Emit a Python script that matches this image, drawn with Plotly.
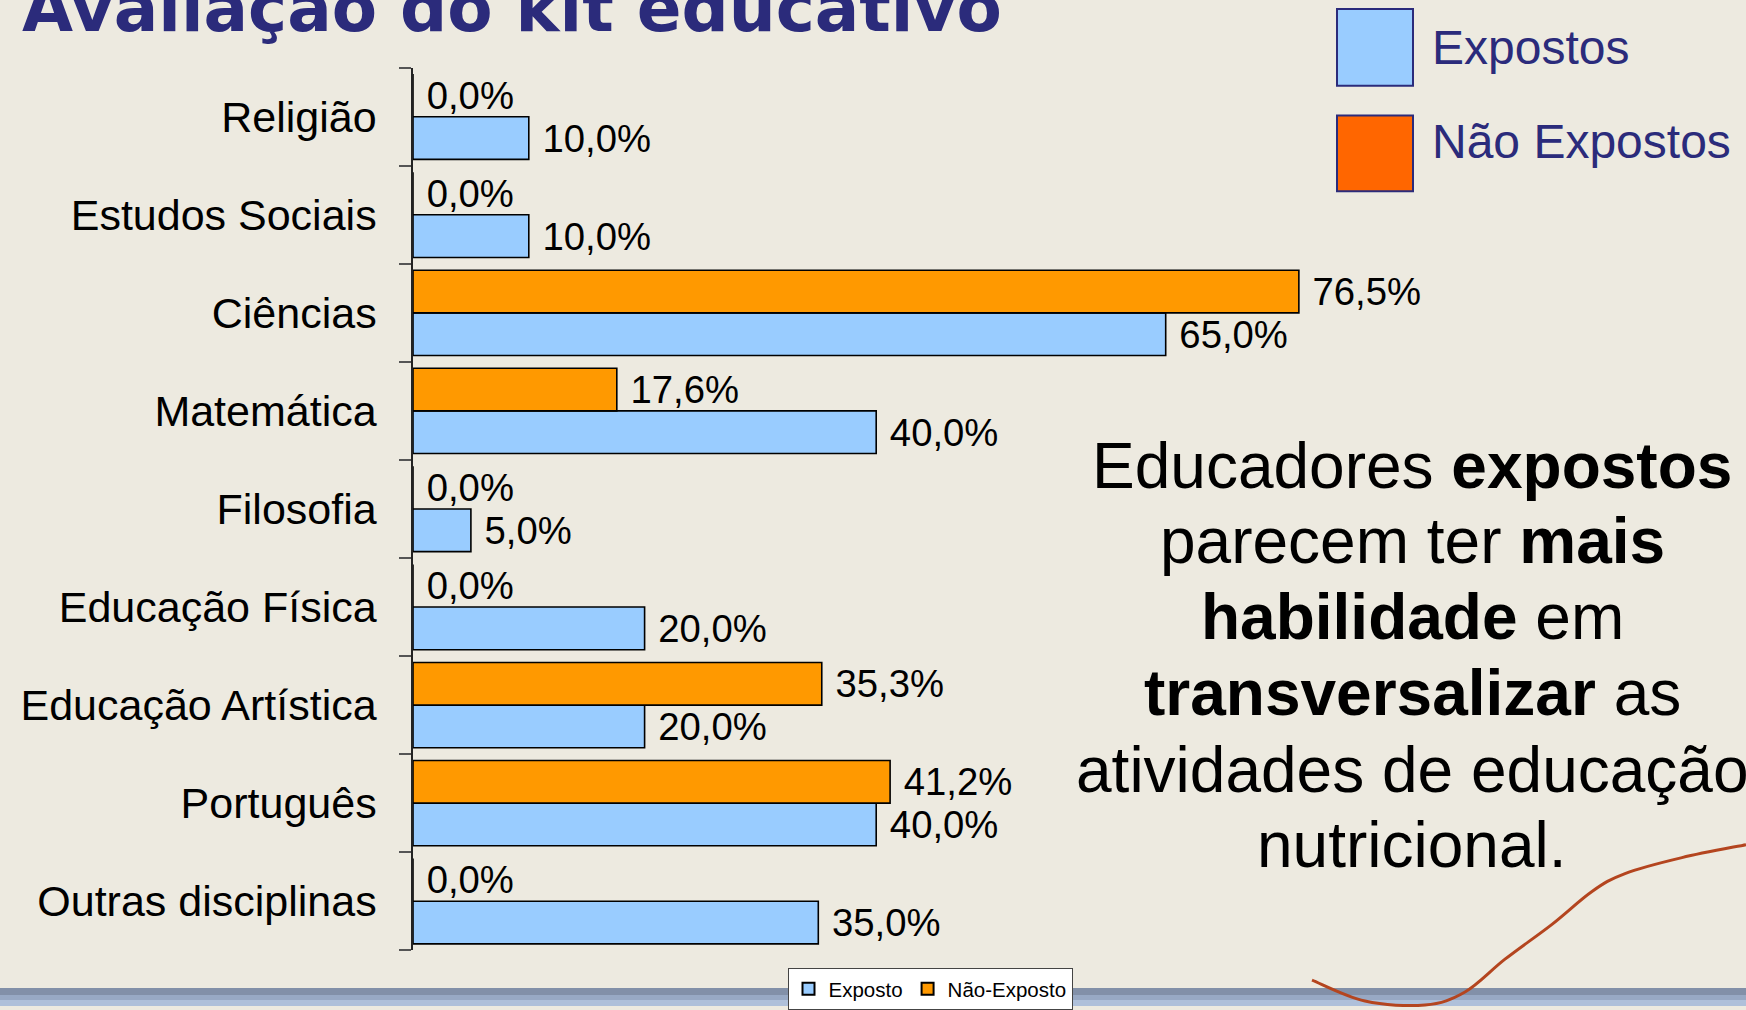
import plotly.graph_objects as go

W, H = 1746, 1010

categories = ["Religião", "Estudos Sociais", "Ciências", "Matemática", "Filosofia",
              "Educação Física", "Educação Artística", "Português", "Outras disciplinas"]
exposto = [10.0, 10.0, 65.0, 40.0, 5.0, 20.0, 20.0, 40.0, 35.0]
nao_exposto = [0.0, 0.0, 76.5, 17.6, 0.0, 0.0, 35.3, 41.2, 0.0]

title_text = "Avaliação do kit educativo"
note_lines = ["Educadores <b>expostos</b>", "parecem ter <b>mais</b>", "<b>habilidade</b> em",
              "<b>transversalizar</b> as", "atividades de educação", "nutricional."]

BLUE = "#99CCFF"
ORANGE = "#FF9900"
NAVY = "#2B2B7B"
FONT = "Liberation Sans, Arial, sans-serif"


def px(x):
    return x / W


def py(y):
    return 1 - y / H


def fmt(v):
    return " " + f"{v:.1f}".replace(".", ",") + "%"


# plot bottom-to-top so that Religião is at the top
cats_r = categories[::-1]
exp_r = exposto[::-1]
nao_r = nao_exposto[::-1]

fig = go.Figure()
fig.add_trace(go.Bar(
    y=cats_r, x=exp_r, orientation="h", name="Exposto",
    marker=dict(color=BLUE, line=dict(color="black", width=1.6)),
    text=[fmt(v) for v in exp_r], textposition="outside",
    textfont=dict(size=39.5, color="black", family=FONT), cliponaxis=False,
))
fig.add_trace(go.Bar(
    y=cats_r, x=nao_r, orientation="h", name="Não-Exposto",
    marker=dict(color=ORANGE, line=dict(color="black", width=1.6)),
    text=[fmt(v) for v in nao_r], textposition="outside",
    textfont=dict(size=39.5, color="black", family=FONT), cliponaxis=False,
))

x_left, px_per_unit, x_max = 413, 11.58, 100
fig.update_layout(
    width=W, height=H,
    margin=dict(l=0, r=0, t=0, b=0),
    paper_bgcolor="#EDEAE0",
    plot_bgcolor="rgba(0,0,0,0)",
    barmode="group", bargap=0.13, bargroupgap=0,
    font=dict(family=FONT, color="black"),
    xaxis=dict(domain=[px(x_left), px(x_left + px_per_unit * x_max)], range=[0, x_max],
               visible=False, showgrid=False, zeroline=False),
    yaxis=dict(domain=[py(954), py(68)], type="category", categoryorder="array",
               categoryarray=cats_r, showline=True, linecolor="#222", linewidth=1.5,
               ticks="outside", ticklen=12, tickcolor="#555", tickwidth=1.5,
               tickson="boundaries", ticklabelstandoff=26,
               tickfont=dict(size=43, color="black", family=FONT), showgrid=False,
               zeroline=False),
    legend=dict(orientation="h", x=px(930), xanchor="center", y=py(972), yanchor="top",
                bgcolor="white", bordercolor="#444", borderwidth=1,
                font=dict(size=20.5, color="black", family=FONT), traceorder="normal",
                itemsizing="constant", itemwidth=30),
    showlegend=True,
)

shapes = []
# bottom torn-paper band
shapes.append(dict(type="rect", xref="paper", yref="paper", x0=0, x1=1, y0=py(1010), y1=py(992),
                   fillcolor="#8290A8", line=dict(width=0), layer="below"))
shapes.append(dict(type="rect", xref="paper", yref="paper", x0=0, x1=1, y0=py(1010), y1=py(999),
                   fillcolor="#98A9C4", line=dict(width=0), layer="below"))
shapes.append(dict(type="rect", xref="paper", yref="paper", x0=0, x1=1, y0=py(1010), y1=py(1004),
                   fillcolor="#AFC0DA", line=dict(width=0), layer="below"))

# red thread decoration (smooth Catmull-Rom curve)
thread = [(1312, 984), (1365, 1005), (1425, 1009), (1465, 996), (1505, 963), (1552, 928),
          (1592, 895), (1625, 877), (1682, 861), (1746, 848)]
pts = [thread[0]] + thread + [thread[-1]]
segs = [f"M {px(thread[0][0]):.5f},{py(thread[0][1]):.5f}"]
for i in range(1, len(pts) - 2):
    p0, p1, p2, p3 = pts[i - 1], pts[i], pts[i + 1], pts[i + 2]
    c1 = (p1[0] + (p2[0] - p0[0]) / 6, p1[1] + (p2[1] - p0[1]) / 6)
    c2 = (p2[0] - (p3[0] - p1[0]) / 6, p2[1] - (p3[1] - p1[1]) / 6)
    segs.append(f"C {px(c1[0]):.5f},{py(c1[1]):.5f} {px(c2[0]):.5f},{py(c2[1]):.5f} "
                f"{px(p2[0]):.5f},{py(p2[1]):.5f}")
shapes.append(dict(type="path", xref="paper", yref="paper", path=" ".join(segs),
                   line=dict(color="#B4451F", width=3), layer="below"))
# top-right legend boxes
shapes.append(dict(type="rect", xref="paper", yref="paper", x0=px(1337), x1=px(1413),
                   y0=py(86), y1=py(9), fillcolor="#99CCFF", line=dict(color=NAVY, width=2)))
shapes.append(dict(type="rect", xref="paper", yref="paper", x0=px(1337), x1=px(1413),
                   y0=py(192), y1=py(116), fillcolor="#FF6600", line=dict(color=NAVY, width=2)))
fig.update_layout(shapes=shapes)

ann = []
ann.append(dict(text="<b>" + title_text + "</b>", xref="paper", yref="paper",
                x=px(20), y=py(32 - 0.35 * 66), xanchor="left", yanchor="middle",
                showarrow=False, font=dict(size=66, color=NAVY, family="DejaVu Sans, Verdana, sans-serif")))
ann.append(dict(text="Expostos", xref="paper", yref="paper", x=px(1430), y=py(48),
                xanchor="left", yanchor="middle", showarrow=False,
                font=dict(size=48, color=NAVY, family=FONT)))
ann.append(dict(text="Não Expostos", xref="paper", yref="paper", x=px(1430), y=py(142),
                xanchor="left", yanchor="middle", showarrow=False,
                font=dict(size=48, color=NAVY, family=FONT)))
baselines = [490, 566, 642, 718, 795, 871]
for line, b in zip(note_lines, baselines):
    ann.append(dict(text=line, xref="paper", yref="paper", x=px(1412), y=py(b - 0.35 * 64),
                    xanchor="center", yanchor="middle", showarrow=False,
                    font=dict(size=64, color="black", family=FONT)))
fig.update_layout(annotations=ann)

fig.write_html("out.html")
